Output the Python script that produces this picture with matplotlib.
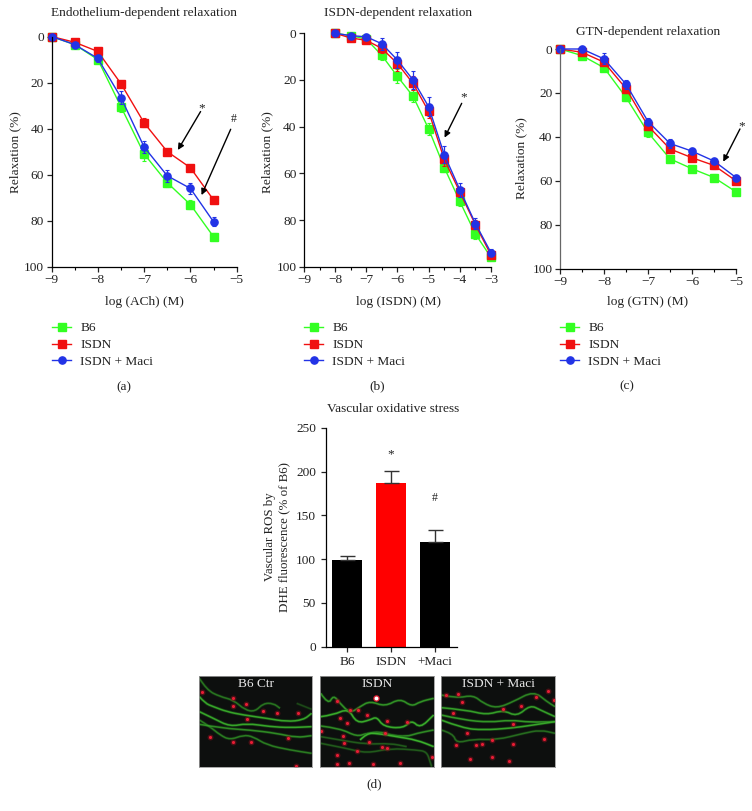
import numpy as np
import matplotlib
matplotlib.use('Agg')
import matplotlib.pyplot as plt
from matplotlib.path import Path
from matplotlib.patches import PathPatch

plt.rcParams['font.family'] = ['Liberation Serif', 'DejaVu Serif']
plt.rcParams['font.size'] = 9.6
plt.rcParams['axes.linewidth'] = 0.9

W, H = 752, 811

# panel (a)
ach_x = [-9, -8.5, -8, -7.5, -7, -6.5, -6, -5.5]
ach_b6 = [0, 3.5, 10, 30.5, 51, 63.5, 73, 87]
ach_isdn = [0, 2.5, 6.5, 20.5, 37.5, 50, 57, 71]
ach_maci = [0, 3.5, 9.5, 26.5, 48, 60.5, 66, 80.5]
ach_b6_err = [0, 0.5, 1, 2.5, 3, 2, 2, 1.5]
ach_isdn_err = [0, 0.5, 1, 1, 2, 1, 1, 0.5]
ach_maci_err = [0, 0.5, 1.5, 3, 2.5, 2.5, 2.5, 2]

# panel (b)
isdn_x = [-8, -7.5, -7, -6.5, -6, -5.5, -5, -4.5, -4, -3.5, -3]
isdn_b6 = [0, 1, 2.5, 9.5, 18.5, 27, 41, 57.5, 72, 86, 96]
isdn_isdn = [0, 2, 3, 6.5, 13, 21.5, 33.5, 54, 68, 82, 95]
isdn_maci = [0, 1, 1.5, 4.5, 11.5, 20, 31.5, 52, 67, 81.5, 94]
isdn_b6_err = [0, 0.5, 1, 2, 3, 2.5, 2.5, 2, 2, 2, 1]
isdn_isdn_err = [0, 1, 1, 2, 3, 3, 3, 3, 2, 2, 1]
isdn_maci_err = [0, 1, 1, 2.5, 3.5, 4, 4, 3.5, 3, 2.5, 1.5]

# panel (c)
gtn_x = [-9, -8.5, -8, -7.5, -7, -6.5, -6, -5.5, -5]
gtn_b6 = [0, 3, 8.5, 22, 38, 50, 54.5, 58.5, 65]
gtn_isdn = [0, 1.5, 6, 18, 35, 45.5, 49.5, 53, 60]
gtn_maci = [0, 0, 4.5, 16, 33, 43, 46.5, 51, 58.5]
gtn_b6_err = [0, 0.5, 1, 1.5, 2, 1, 1, 1.5, 1.5]
gtn_isdn_err = [0, 1, 1.5, 2, 2, 2, 1.5, 1.5, 1]
gtn_maci_err = [0, 0, 2.5, 2, 1.5, 2, 1.5, 1, 1]

# panel (d)
bar_labels = ['B6', 'ISDN', '+Maci']
bar_values = [99, 187, 120]
bar_err = [5, 14, 13]
bar_colors = ['black', '#ff0000', 'black']

# micrographs, coordinates
ctr_lines = [
    [(28, 95), (45, 115), (70, 125), (110, 140), (160, 150), (230, 160), (290, 170), (340, 165), (365, 145)],
    [(28, 40), (50, 75), (90, 95), (130, 105), (165, 135), (195, 140), (220, 115), (250, 115), (270, 130)],
    [(28, 140), (70, 160), (120, 185), (170, 175), (240, 185), (300, 188), (365, 185)],
    [(28, 165), (60, 185), (90, 210), (120, 225), (160, 210), (190, 215), (230, 240), (300, 255), (365, 265)],
    [(28, 178), (100, 190), (180, 195), (260, 205), (320, 218), (365, 212)],
    [(320, 115), (365, 133)],
]
ctr_levels = [0.9, 0.55, 0.9, 0.6, 0.7, 0.3]
ctr_spots = [(35, 80), (128, 123), (167, 117), (220, 137), (170, 163), (60, 216), (318, 303), (325, 143),
             (130, 100), (262, 143), (295, 220), (130, 232), (183, 230)]
isdn_lines = [
    [(392, 85), (415, 120), (430, 90), (450, 115), (480, 145), (510, 125), (540, 108), (585, 125), (630, 100),
     (665, 125), (690, 110), (731, 100)],
    [(392, 155), (430, 150), (475, 130), (500, 175), (540, 165), (560, 155), (580, 185), (640, 190), (665, 165),
     (690, 190), (731, 150)],
    [(392, 183), (450, 190), (500, 215), (530, 205), (570, 200), (600, 210), (650, 215), (680, 205), (731, 195)],
    [(392, 215), (450, 225), (530, 238), (600, 235), (650, 245)],
    [(510, 225), (530, 205), (560, 205), (620, 215), (680, 225), (731, 245)],
    [(392, 235), (470, 250), (530, 265), (600, 250), (680, 255), (710, 260), (720, 290), (725, 305)],
]
isdn_levels = [0.75, 0.95, 0.7, 0.4, 1.0, 0.4]
isdn_spots = [(440, 108), (480, 135), (505, 135), (470, 173), (530, 150), (592, 168), (650, 170), (393, 197),
              (460, 213), (585, 203), (463, 234), (538, 232), (575, 247), (590, 250), (440, 270), (440, 296),
              (477, 294), (548, 296), (631, 295), (725, 275), (450, 160), (500, 258)]
maci_lines = [
    [(754, 90), (800, 100), (850, 90), (880, 115), (920, 130), (970, 110), (1030, 78), (1070, 110), (1094, 125)],
    [(754, 128), (830, 135), (890, 150), (940, 135), (980, 155), (1020, 120), (1050, 135), (1094, 155)],
    [(754, 150), (820, 165), (900, 172), (960, 165), (1020, 172), (1094, 170)],
    [(754, 165), (820, 190), (880, 195), (960, 190), (1030, 180), (1094, 170)],
    [(754, 195), (790, 205), (800, 235), (850, 222), (920, 225), (1000, 205), (1050, 195), (1094, 205)],
]
maci_levels = [0.65, 0.85, 0.8, 0.9, 0.5]
maci_spots = [(1073, 77), (1090, 105), (805, 88), (770, 90), (818, 112), (938, 133), (993, 123), (1038, 95),
              (968, 177), (832, 205), (1060, 222), (907, 225), (875, 238), (857, 240), (798, 240), (970, 238),
              (905, 277), (958, 289), (840, 283), (790, 143)]

GREEN, RED, BLUE = '#33ff22', '#f01010', '#2233e6'
TXT = '#222222'

fig = plt.figure(figsize=(W / 100, H / 100), dpi=100)


def make_axes(left, right, top, bottom):
    return fig.add_axes([left / W, 1 - bottom / H, (right - left) / W, (bottom - top) / H])


def text_px(x, y, s, **kw):
    kw.setdefault('ha', 'center')
    kw.setdefault('va', 'center')
    kw.setdefault('color', TXT)
    fig.text(x / W, 1 - y / H, s, **kw)


def relax_panel(box, x, b6, isdn, maci, b6_err, isdn_err, maci_err, xmax, legend_xy):
    ax = make_axes(*box)
    for y, e, c, m, ms, name in [(b6, b6_err, GREEN, 's', 6.2, 'B6'), (isdn, isdn_err, RED, 's', 5.2, 'ISDN'),
                                 (maci, maci_err, BLUE, 'o', 5.2, 'ISDN + Maci')]:
        ax.errorbar(x, y, yerr=e, fmt='none', ecolor=c, elinewidth=0.9, capsize=1.6, capthick=0.8, clip_on=False)
        ax.plot(x, y, color=c, marker=m, ms=ms, lw=1, label=name, clip_on=False)
    ax.set_xlim(-9, xmax)
    ax.set_ylim(100, 0)
    ax.set_xticks(np.arange(-9, xmax + 1))
    ax.set_xticks(np.arange(-9, xmax + 0.5, 0.5), minor=True)
    ax.set_xticklabels(['\u2212%d' % abs(t) for t in np.arange(-9, xmax + 1)])
    ax.set_yticks([0, 20, 40, 60, 80, 100])
    ax.spines['top'].set_visible(False)
    ax.spines['right'].set_visible(False)
    ax.tick_params(axis='both', length=3.5, width=0.9, pad=2, colors=TXT)
    ax.tick_params(axis='x', which='minor', length=2.2, width=0.8)
    ax.legend(loc='upper left', bbox_to_anchor=(legend_xy[0] / W, 1 - legend_xy[1] / H),
              bbox_transform=fig.transFigure, frameon=False, borderpad=0, borderaxespad=0,
              handlelength=1.45, handletextpad=0.68, labelspacing=0.34, labelcolor=TXT)
    return ax


def arrow(ax, start, end):
    ax.annotate('', xy=end, xytext=start, annotation_clip=False,
                arrowprops=dict(arrowstyle='-|>', color='black', lw=1, mutation_scale=9, shrinkA=0, shrinkB=0))


ax_a = relax_panel((51.5, 236.7, 36.5, 266.7), ach_x, ach_b6, ach_isdn, ach_maci,
                   ach_b6_err, ach_isdn_err, ach_maci_err, -5, (52, 322))
arrow(ax_a, (-5.78, 32.6), (-6.27, 49.3))
arrow(ax_a, (-5.13, 40.3), (-5.76, 68.9))
ax_a.text(-5.75, 31, '*', ha='center', va='center', color=TXT)
ax_a.text(-5.06, 36, '#', ha='center', va='center', color=TXT, fontsize=8.5)

ax_b = relax_panel((304, 491, 33.3, 266.7), isdn_x, isdn_b6, isdn_isdn, isdn_maci,
                   isdn_b6_err, isdn_isdn_err, isdn_maci_err, -3, (304, 322))
arrow(ax_b, (-3.94, 30), (-4.49, 44.7))
ax_b.text(-3.87, 27.5, '*', ha='center', va='center', color=TXT)

ax_c = relax_panel((560, 736, 49, 268.7), gtn_x, gtn_b6, gtn_isdn, gtn_maci,
                   gtn_b6_err, gtn_isdn_err, gtn_maci_err, -5, (560, 322))
ax_c.spines['left'].set_color('#666666')
arrow(ax_c, (-4.91, 36.4), (-5.29, 51.3))
ax_c.text(-4.87, 35, '*', ha='center', va='center', color=TXT, clip_on=False)

text_px(144, 13, 'Endothelium-dependent relaxation')
text_px(398, 13, 'ISDN-dependent relaxation')
text_px(648, 32, 'GTN-dependent relaxation')
text_px(144, 302, 'log (ACh) (M)')
text_px(398, 302, 'log (ISDN) (M)')
text_px(648, 302, 'log (GTN) (M)')
text_px(15, 152, 'Relaxation (%)', rotation=90)
text_px(267, 152, 'Relaxation (%)', rotation=90)
text_px(521, 158, 'Relaxation (%)', rotation=90)
text_px(124, 387, '(a)')
text_px(377, 386, '(b)')
text_px(627, 386, '(c)')
text_px(374, 784, '(d)')

# bar chart
ax_d = make_axes(325.7, 456.7, 427.7, 646.7)
bar_pos = np.arange(3)
ax_d.bar(bar_pos, bar_values, width=0.686, color=bar_colors)
ax_d.errorbar(bar_pos, bar_values, yerr=[[0, 0, 0], bar_err], fmt='none', ecolor='#333333',
              elinewidth=1, capsize=5.4, capthick=1)
ax_d.set_xlim(-0.494, 2.5)
ax_d.set_ylim(0, 250)
ax_d.set_yticks([0, 50, 100, 150, 200, 250])
ax_d.set_xticks(bar_pos)
ax_d.set_xticklabels(bar_labels)
ax_d.spines['top'].set_visible(False)
ax_d.spines['right'].set_visible(False)
ax_d.tick_params(axis='both', length=3.5, width=0.9, pad=3.5, colors=TXT)
ax_d.text(1, 220, '*', ha='center', va='center', color=TXT)
ax_d.text(2, 170, '#', ha='center', va='center', color=TXT, fontsize=8.5)
text_px(393, 409, 'Vascular oxidative stress')
text_px(277, 537, 'Vascular ROS by\nDHE fluorescence (% of B6)', rotation=90, linespacing=1.25, fontsize=9.3)


def smooth_path(pts):
    # quadratic curve through the midpoints
    pts = np.array(pts, dtype=float)
    verts = [pts[0]]
    codes = [Path.MOVETO]
    for i in range(1, len(pts) - 1):
        verts += [pts[i], (pts[i] + pts[i + 1]) / 2]
        codes += [Path.CURVE3, Path.CURVE3]
    verts.append(pts[-1])
    codes.append(Path.LINETO)
    return Path(verts, codes)


def micrograph(box, xlim, lines, levels, spots, label):
    ax = make_axes(*box)
    ax.set_facecolor('#0d0f0e')
    for pts, lev in zip(lines, levels):
        p = smooth_path(pts)
        ax.add_patch(PathPatch(p, fc='none', ec='#1c6a1a', lw=2.2, alpha=0.55 * lev))
        ax.add_patch(PathPatch(p, fc='none', ec='#3cb02c', lw=1.1, alpha=lev))
    sx, sy = zip(*spots)
    ax.scatter(sx, sy, s=18, color='#8a0f1c', alpha=0.5, linewidths=0)
    ax.scatter(sx, sy, s=5, color='#e81c34', linewidths=0)
    ax.set_xlim(*xlim)
    ax.set_ylim(306, 34)
    ax.set_xticks([])
    ax.set_yticks([])
    for s in ax.spines.values():
        s.set_color('#999999')
        s.set_linewidth(0.6)
    ax.text(sum(xlim) / 2, 58, label, color='#e8e8e8', ha='center', va='center')
    return ax


micrograph((198.7, 312.3, 676.3, 767), (26, 367), ctr_lines, ctr_levels, ctr_spots, 'B6 Ctr')
img_b = micrograph((319.7, 433.7, 676.3, 767), (389, 731), isdn_lines, isdn_levels, isdn_spots, 'ISDN')
img_b.scatter([558], [100], s=22, color='#e01c30', linewidths=0, zorder=5)
img_b.scatter([558], [100], s=8, color='white', linewidths=0, zorder=6)
micrograph((441, 555, 676.3, 767), (754, 1094), maci_lines, maci_levels, maci_spots, 'ISDN + Maci')

fig.savefig('out.png', dpi=100)
